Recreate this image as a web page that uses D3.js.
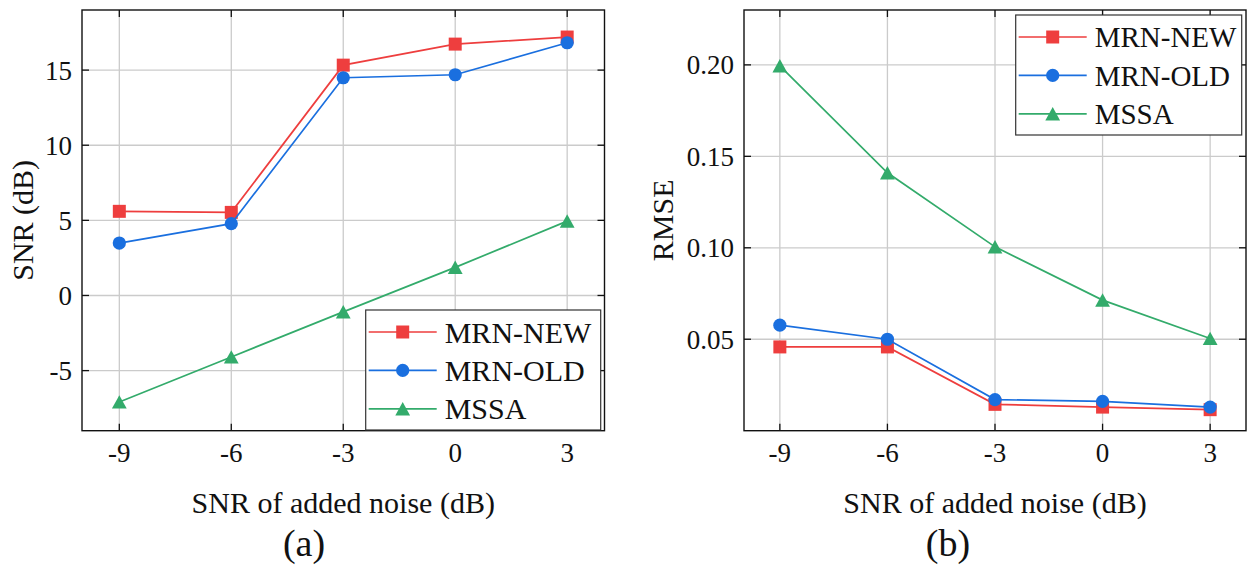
<!DOCTYPE html>
<html>
<head>
<meta charset="utf-8">
<script src="https://cdn.jsdelivr.net/npm/d3@7"></script>
<style>
  body { margin: 0; background: #fff; }
  svg text { font-family: 'Liberation Serif', 'Times New Roman', Times, 'DejaVu Serif', serif; fill: #111; }
</style>
</head>
<body>
<svg id="chart" width="1253" height="565" font-family="'Liberation Serif', 'Times New Roman', Times, serif"></svg>
<script>
// ---- data ----
const noiseLevels = [-9, -6, -3, 0, 3];
const seriesNames = ["MRN-NEW", "MRN-OLD", "MSSA"];

const snrNew  = [5.6, 5.53, 15.33, 16.73, 17.2];
const snrOld  = [3.49, 4.78, 14.49, 14.69, 16.82];
const snrMssa = [-7.09, -4.09, -1.09, 1.87, 4.95];

const rmseNew  = [0.0458, 0.0458, 0.0144, 0.0129, 0.0115];
const rmseOld  = [0.0577, 0.0500, 0.0170, 0.0160, 0.0129];
const rmseMssa = [0.1995, 0.1410, 0.1005, 0.0714, 0.0504];

const snrTicks  = [-5, 0, 5, 10, 15];
const rmseTicks = [0.05, 0.10, 0.15, 0.20];

const colors  = ["#ee3e3e", "#1a6fdf", "#33ab6b"];
const markers = ["square", "circle", "triangle"];

const svg = d3.select("#chart");

// marker path centred on its bounding box (like matplotlib)
function markerPath(kind) {
    if (kind === "square") return "M-6.5,-6.5H6.5V6.5H-6.5Z";
    if (kind === "circle") return d3.symbol(d3.symbolCircle, Math.PI * 6.6 * 6.6)();
    return "M0,-6.8L7.4,6.6L-7.4,6.6Z";
}

function drawPanel(p) {
    const g = svg.append("g");

    const x = d3.scaleLinear().domain([-10, 4]).range([p.left, p.right]);
    const y = d3.scaleLinear().domain(p.yDomain).range([p.bottom, p.top]);

    // grid
    g.selectAll(".gx").data(noiseLevels).enter().append("line")
        .attr("x1", d => x(d)).attr("x2", d => x(d))
        .attr("y1", p.top).attr("y2", p.bottom)
        .attr("stroke", "#cbcbcb").attr("stroke-width", 1.3);
    g.selectAll(".gy").data(p.yTicks).enter().append("line")
        .attr("x1", p.left).attr("x2", p.right)
        .attr("y1", d => y(d)).attr("y2", d => y(d))
        .attr("stroke", "#cbcbcb").attr("stroke-width", 1.3);

    // ticks pointing inwards on all four sides
    const tl = 7;
    const tk = g.append("g").attr("stroke", "#111").attr("stroke-width", 1.3);
    noiseLevels.forEach(d => {
        tk.append("line").attr("x1", x(d)).attr("x2", x(d)).attr("y1", p.bottom).attr("y2", p.bottom - tl);
        tk.append("line").attr("x1", x(d)).attr("x2", x(d)).attr("y1", p.top).attr("y2", p.top + tl);
    });
    p.yTicks.forEach(d => {
        tk.append("line").attr("x1", p.left).attr("x2", p.left + tl).attr("y1", y(d)).attr("y2", y(d));
        tk.append("line").attr("x1", p.right).attr("x2", p.right - tl).attr("y1", y(d)).attr("y2", y(d));
    });

    // tick labels
    g.selectAll(".xl").data(noiseLevels).enter().append("text")
        .attr("x", d => x(d)).attr("y", 462)
        .attr("text-anchor", "middle").style("font-size", p.tickFont + "px")
        .text(d => String(d));
    g.selectAll(".yl").data(p.yTicks).enter().append("text")
        .attr("x", p.left - 10).attr("y", d => y(d)).attr("dy", "0.35em")
        .attr("text-anchor", "end").style("font-size", p.tickFont + "px")
        .text(p.yFormat);

    // series
    const line = d3.line().x((d, i) => x(noiseLevels[i])).y(d => y(d));
    p.series.forEach((vals, k) => {
        g.append("path").datum(vals)
            .attr("d", line).attr("fill", "none")
            .attr("stroke", colors[k]).attr("stroke-width", 1.7);
        g.selectAll(".m" + k).data(vals).enter().append("path")
            .attr("d", markerPath(markers[k]))
            .attr("transform", (d, i) => `translate(${x(noiseLevels[i])},${y(d)})`)
            .attr("fill", colors[k]);
    });

    // frame
    g.append("rect")
        .attr("x", p.left).attr("y", p.top)
        .attr("width", p.right - p.left).attr("height", p.bottom - p.top)
        .attr("fill", "none").attr("stroke", "#111").attr("stroke-width", 1.4);

    // legend
    const lg = g.append("g").attr("transform", `translate(${p.legX},${p.legY})`);
    lg.append("rect").attr("width", p.legW).attr("height", 120)
        .attr("fill", "#fff").attr("stroke", "#333").attr("stroke-width", 1.2);
    seriesNames.forEach((name, k) => {
        const ly = 22 + k * 38.4;
        lg.append("line").attr("x1", 3).attr("x2", 71).attr("y1", ly).attr("y2", ly)
            .attr("stroke", colors[k]).attr("stroke-width", 1.7);
        lg.append("path").attr("d", markerPath(markers[k]))
            .attr("transform", `translate(37,${ly})`).attr("fill", colors[k]);
        lg.append("text").attr("x", 79).attr("y", ly).attr("dy", "0.35em")
            .style("font-size", p.legFont + "px").text(name);
    });

    // axis titles
    g.append("text")
        .attr("x", (p.left + p.right) / 2).attr("y", 513)
        .attr("text-anchor", "middle").style("font-size", "30px")
        .text("SNR of added noise (dB)");
    g.append("text")
        .attr("transform", `translate(${p.yLabelX},${(p.top + p.bottom) / 2}) rotate(-90)`)
        .attr("text-anchor", "middle").style("font-size", "30px")
        .text(p.yLabel);
    g.append("text")
        .attr("x", p.tagX).attr("y", 556)
        .attr("text-anchor", "middle").style("font-size", "38px")
        .text(p.tag);
}

drawPanel({
    left: 82, right: 604.5, top: 10, bottom: 430.7,
    yDomain: [-9, 19], yTicks: snrTicks, yFormat: d => String(d),
    series: [snrNew, snrOld, snrMssa],
    yLabel: "SNR (dB)", yLabelX: 33,
    legX: 365.7, legY: 310, legW: 235, legFont: 30, tickFont: 27,
    tag: "(a)", tagX: 304
});

drawPanel({
    left: 744, right: 1246, top: 10, bottom: 430.7,
    yDomain: [0, 0.23], yTicks: rmseTicks, yFormat: d3.format(".2f"),
    series: [rmseNew, rmseOld, rmseMssa],
    yLabel: "RMSE", yLabelX: 673,
    legX: 1015.7, legY: 15, legW: 226, legFont: 29, tickFont: 27,
    tag: "(b)", tagX: 948
});
</script>
</body>
</html>
